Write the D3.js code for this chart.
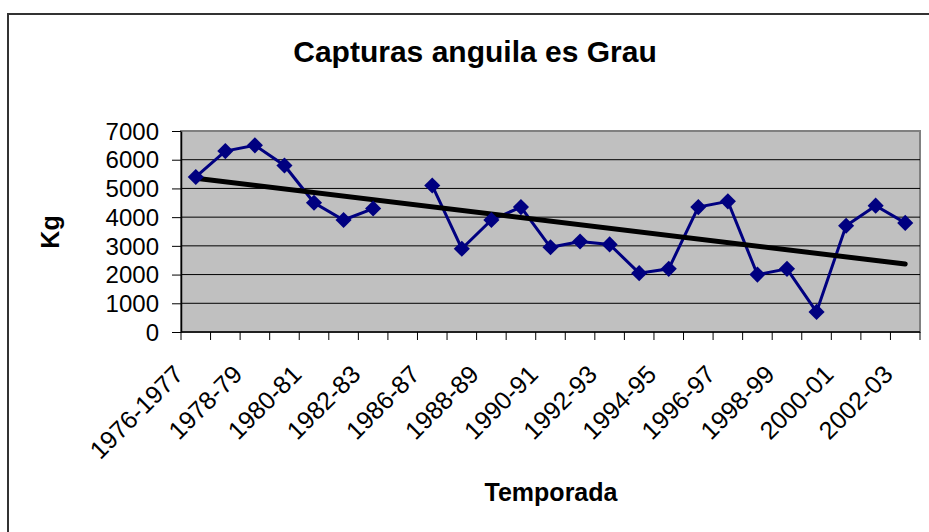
<!DOCTYPE html>
<html>
<head>
<meta charset="utf-8">
<script src="https://cdn.jsdelivr.net/npm/d3@7"></script>
<style>
  body { margin: 0; background: #fff; }
  svg { display: block; font-family: Arial, "Liberation Sans", sans-serif; }
</style>
</head>
<body>
<div id="vis"></div>
<script>
// seasons, one per category (index 7 has no value)
const seasons = ['1976-1977', '1977-78', '1978-79', '1979-80', '1980-81', '1981-82',
	'1982-83', '1983-86', '1986-87', '1987-88', '1988-89', '1989-90', '1990-91',
	'1991-92', '1992-93', '1993-94', '1994-95', '1995-96', '1996-97', '1997-98',
	'1998-99', '1999-00', '2000-01', '2001-02', '2002-03']

// catches in kg
const catches = [5400, 6300, 6500, 5800, 4500, 3900, 4300, null, 5100, 2900, 3900,
	4350, 2950, 3150, 3050, 2050, 2200, 4350, 4550, 2000, 2200, 700, 3700, 4400, 3800]

const yTicks = [0, 1000, 2000, 3000, 4000, 5000, 6000, 7000]

const W = 929
const H = 532
const plot = { left: 181, right: 920, top: 131, bottom: 332 }

const svg = d3.select('#vis').append('svg')
	.attr('width', W)
	.attr('height', H)

// outer chart frame
svg.append('rect')
	.attr('x', 8)
	.attr('y', 14)
	.attr('width', 1000)
	.attr('height', 1000)
	.attr('fill', 'none')
	.attr('stroke', '#333')
	.attr('stroke-width', 2)

const x = d3.scaleBand().domain(seasons).range([plot.left, plot.right])
const y = d3.scaleLinear().domain([0, 7000]).range([plot.bottom, plot.top])
const cx = d => x(d) + x.bandwidth() / 2

// plot area
svg.append('rect')
	.attr('x', plot.left)
	.attr('y', plot.top)
	.attr('width', plot.right - plot.left)
	.attr('height', plot.bottom - plot.top)
	.attr('fill', '#c0c0c0')
	.attr('stroke', '#808080')
	.attr('stroke-width', 2)

// gridlines
svg.append('g').selectAll('line')
	.data(yTicks.filter(t => t > 0 && t < 7000))
	.enter().append('line')
	.attr('x1', plot.left)
	.attr('x2', plot.right)
	.attr('y1', d => y(d))
	.attr('y2', d => y(d))
	.attr('stroke', '#000')
	.attr('stroke-width', 1)

// y axis
const yAxis = d3.axisLeft(y).tickValues(yTicks).tickFormat(d3.format('d'))
	.tickSize(9).tickSizeOuter(0)
const yG = svg.append('g')
	.attr('transform', `translate(${plot.left},0)`)
	.call(yAxis)
yG.select('.domain').attr('stroke', '#000').attr('stroke-width', 1.5)
yG.selectAll('.tick line').attr('stroke', '#000')
yG.selectAll('.tick text')
	.attr('font-size', 24)
	.attr('fill', '#000')
	.attr('x', -22)
	.attr('dy', '0.34em')

// x axis: ticks on category boundaries
const xG = svg.append('g')
	.attr('transform', `translate(0,${plot.bottom})`)
xG.append('line')
	.attr('x1', plot.left).attr('x2', plot.right)
	.attr('stroke', '#000').attr('stroke-width', 1.5)
xG.selectAll('.xtick')
	.data(seasons.concat(['end']))
	.enter().append('line')
	.attr('class', 'xtick')
	.attr('x1', (d, i) => plot.left + i * x.step())
	.attr('x2', (d, i) => plot.left + i * x.step())
	.attr('y1', 0)
	.attr('y2', 8)
	.attr('stroke', '#000')

xG.selectAll('.xlabel')
	.data(seasons.filter((d, i) => i % 2 === 0))
	.enter().append('text')
	.attr('class', 'xlabel')
	.attr('transform', d => `translate(${cx(d) - 11},44) rotate(-45)`)
	.attr('text-anchor', 'end')
	.attr('font-size', 25)
	.attr('fill', '#000')
	.text(d => d)

// trend line (least squares on category index)
const pts = catches.map((v, i) => ({ i, v })).filter(d => d.v !== null)
const mx = d3.mean(pts, d => d.i)
const my = d3.mean(pts, d => d.v)
const slope = d3.sum(pts, d => (d.i - mx) * (d.v - my)) / d3.sum(pts, d => (d.i - mx) ** 2)
const icpt = my - slope * mx
const first = 0
const last = seasons.length - 1

// series line, broken at the missing value
const line = d3.line()
	.defined(d => d !== null)
	.x((d, i) => cx(seasons[i]))
	.y(d => y(d))

svg.append('path')
	.attr('d', line(catches))
	.attr('fill', 'none')
	.attr('stroke', '#000080')
	.attr('stroke-width', 3)

svg.append('line')
	.attr('x1', cx(seasons[first]))
	.attr('x2', cx(seasons[last]))
	.attr('y1', y(icpt + slope * first))
	.attr('y2', y(icpt + slope * last))
	.attr('stroke', '#000')
	.attr('stroke-width', 5)
	.attr('stroke-linecap', 'round')

const marker = d3.symbol().type(d3.symbolSquare).size(130)
svg.append('g').selectAll('path')
	.data(pts)
	.enter().append('path')
	.attr('d', marker)
	.attr('transform', d => `translate(${cx(seasons[d.i])},${y(d.v)}) rotate(45)`)
	.attr('fill', '#000080')

// titles
svg.append('text')
	.attr('x', 475)
	.attr('y', 62)
	.attr('text-anchor', 'middle')
	.attr('font-size', 30)
	.attr('font-weight', 'bold')
	.text('Capturas anguila es Grau')

svg.append('text')
	.attr('x', 551)
	.attr('y', 501)
	.attr('text-anchor', 'middle')
	.attr('font-size', 25)
	.attr('font-weight', 'bold')
	.text('Temporada')

svg.append('text')
	.attr('transform', 'translate(59,232) rotate(-90)')
	.attr('text-anchor', 'middle')
	.attr('font-size', 25)
	.attr('font-weight', 'bold')
	.text('Kg')
</script>
</body>
</html>
